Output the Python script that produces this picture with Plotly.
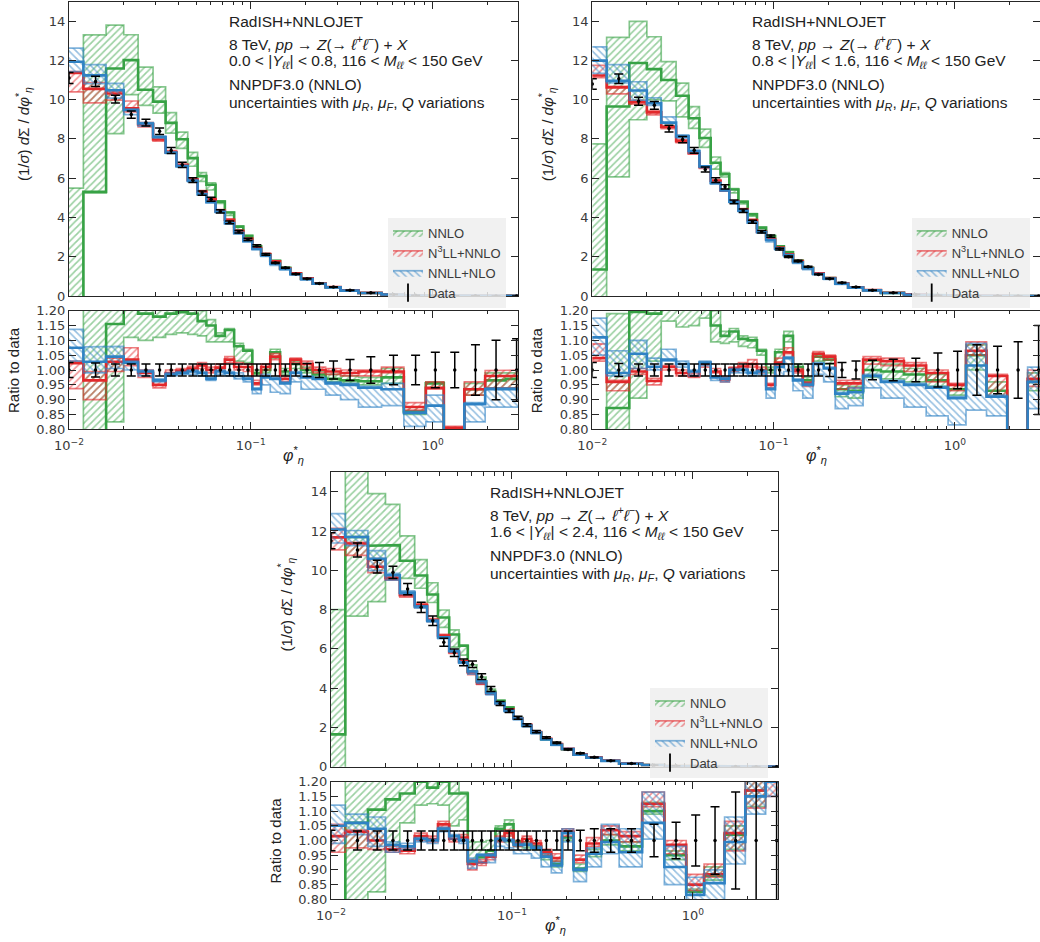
import plotly.graph_objects as go

# bin edges of phi*_eta
edges = [0.008, 0.012, 0.016, 0.020, 0.024, 0.029, 0.034, 0.039, 0.045, 0.051,
         0.057, 0.064, 0.072, 0.081, 0.091, 0.102, 0.114, 0.128, 0.145, 0.165,
         0.189, 0.219, 0.258, 0.312, 0.391, 0.524, 0.695, 0.918, 1.153, 1.496,
         1.947, 2.522, 3.277]

# ---- panel 1 : 0.0 < |Y| < 0.8 ----
data_1 = [11.1, 10.93, 10.03, 9.24, 8.83, 8.39, 7.41, 6.68, 5.90, 5.24, 4.93, 4.31, 3.75, 3.27, 2.88, 2.56,
          2.12, 1.69, 1.44, 1.12, 0.88, 0.64, 0.46, 0.29, 0.16, 0.08, 0.042, 0.022, 0.012, 0.0065, 0.0035, 0.0018]
err_1 = [0.025, 0.024, 0.02, 0.02, 0.02, 0.02, 0.02, 0.02, 0.02, 0.02, 0.02, 0.02, 0.02, 0.02, 0.02, 0.02,
         0.02, 0.02, 0.02, 0.02, 0.022, 0.025, 0.03, 0.035, 0.045, 0.05, 0.05, 0.06, 0.06, 0.085, 0.10, 0.105]
nnlo_1 = [-0.2, 0.485, 1.155, 1.30, 1.19, 1.18, 1.19, 1.195, 1.19, 1.165, 1.15, 1.115, 1.135, 1.08, 1.065, 0.99,
          1.0, 1.06, 0.995, 1.02, 1.0, 0.985, 0.97, 0.965, 0.962, 0.975, 0.86, 0.955, 0.79, 0.935, 0.965, 0.97]
nnlo_lo_1 = [-0.5, 0.48, 0.825, 1.11, 1.10, 1.11, 1.12, 1.125, 1.12, 1.115, 1.095, 1.095, 1.095, 1.03, 1.025, 0.985,
             0.99, 1.04, 0.985, 1.005, 0.99, 0.975, 0.96, 0.955, 0.95, 0.955, 0.85, 0.94, 0.78, 0.915, 0.94, 0.94]
nnlo_hi_1 = [0.495, 1.217, 1.376, 1.44, 1.32, 1.27, 1.26, 1.25, 1.24, 1.20, 1.17, 1.125, 1.14, 1.09, 1.07, 1.0,
             1.01, 1.07, 1.005, 1.03, 1.01, 0.995, 0.985, 0.98, 0.975, 1.005, 0.875, 0.96, 0.805, 0.955, 0.99, 0.99]
n3ll_1 = [1.023, 0.965, 1.028, 1.035, 0.99, 0.95, 0.99, 0.998, 1.005, 1.015, 1.0, 1.008, 1.035, 1.01, 1.01, 0.955,
          1.01, 1.045, 0.97, 1.035, 1.02, 1.0, 0.995, 0.99, 0.995, 0.995, 0.875, 0.94, 0.805, 0.935, 0.98, 0.98]
n3ll_lo_1 = [0.937, 0.90, 0.995, 1.015, 0.975, 0.94, 0.985, 0.99, 0.995, 1.005, 0.99, 0.998, 1.025, 1.0, 0.995, 0.95,
             1.0, 1.035, 0.96, 1.025, 1.005, 0.99, 0.985, 0.98, 0.98, 0.99, 0.865, 0.935, 0.79, 0.915, 0.94, 0.94]
n3ll_hi_1 = [1.03, 0.995, 1.04, 1.075, 1.0, 0.965, 1.0, 1.005, 1.012, 1.025, 1.01, 1.02, 1.045, 1.025, 1.02, 0.965,
             1.02, 1.055, 0.98, 1.04, 1.03, 1.01, 1.005, 1.0, 1.0, 1.01, 0.89, 0.96, 0.81, 0.96, 0.998, 1.0]
nnll_1 = [1.075, 1.028, 1.045, 1.025, 0.995, 0.965, 0.985, 0.99, 0.995, 0.99, 0.97, 0.995, 0.99, 0.98, 0.97, 0.935,
          0.975, 0.97, 0.955, 0.99, 0.975, 0.97, 0.955, 0.95, 0.94, 0.935, 0.855, 0.88, 0.75, 0.885, 0.935, 0.935]
nnll_lo_1 = [1.03, 0.99, 1.005, 1.0, 0.98, 0.96, 0.98, 0.985, 0.985, 0.98, 0.965, 0.985, 0.98, 0.97, 0.96, 0.92,
             0.95, 0.925, 0.92, 0.96, 0.935, 0.935, 0.915, 0.90, 0.875, 0.88, 0.81, 0.825, 0.70, 0.825, 0.875, 0.875]
nnll_hi_1 = [1.137, 1.078, 1.08, 1.03, 1.0, 0.97, 0.99, 0.995, 1.0, 0.995, 0.975, 1.0, 0.995, 0.99, 0.975, 0.94,
             0.985, 0.975, 0.96, 0.995, 0.98, 0.975, 0.96, 0.955, 0.945, 0.955, 0.86, 0.915, 0.78, 0.89, 0.94, 0.94]

# ---- panel 2 : 0.8 < |Y| < 1.6 ----
data_2 = [10.8, 11.07, 9.92, 9.71, 8.53, 7.97, 7.42, 6.44, 5.90, 5.56, 4.80, 4.34, 3.78, 3.27, 3.05, 2.39,
          2.0, 1.78, 1.49, 1.10, 0.88, 0.68, 0.46, 0.29, 0.16, 0.08, 0.042, 0.022, 0.012, 0.0065, 0.0035, 0.0018]
err_2 = [0.025, 0.022, 0.02, 0.02, 0.02, 0.02, 0.02, 0.02, 0.02, 0.02, 0.02, 0.02, 0.02, 0.02, 0.02, 0.02,
         0.02, 0.02, 0.02, 0.02, 0.022, 0.025, 0.03, 0.033, 0.036, 0.04, 0.057, 0.063, 0.085, 0.08, 0.095, 0.15]
nnlo_2 = [0.125, 0.872, 1.196, 1.19, 1.29, 1.28, 1.22, 1.25, 1.15, 1.115, 1.13, 1.105, 1.10, 1.065, 1.0, 1.06,
          1.115, 1.01, 0.965, 1.045, 1.035, 0.935, 0.93, 1.0, 0.995, 0.985, 0.965, 0.935, 1.05, 0.93, 0.75, 0.96]
nnlo_lo_2 = [-0.3, 0.548, 0.905, 1.03, 1.165, 1.145, 1.15, 1.175, 1.095, 1.09, 1.095, 1.08, 1.075, 1.05, 0.99, 1.025,
             1.095, 1.0, 0.955, 1.03, 1.02, 0.91, 0.905, 0.975, 0.97, 0.96, 0.945, 0.915, 1.0, 0.91, 0.72, 0.93]
nnlo_hi_2 = [0.717, 1.19, 1.41, 1.36, 1.40, 1.36, 1.30, 1.32, 1.20, 1.13, 1.14, 1.115, 1.11, 1.07, 1.01, 1.07,
             1.13, 1.02, 0.975, 1.055, 1.045, 0.95, 0.945, 1.03, 1.02, 1.005, 0.985, 0.95, 1.085, 0.96, 0.78, 0.99]
n3ll_2 = [1.04, 0.96, 0.995, 0.963, 1.01, 0.99, 0.98, 1.02, 0.995, 0.968, 1.005, 1.012, 1.02, 1.0, 0.95, 1.025,
          1.06, 0.998, 0.955, 1.055, 1.045, 0.955, 0.955, 1.035, 1.03, 1.015, 0.99, 0.95, 1.065, 0.98, 0.76, 0.97]
n3ll_lo_2 = [1.03, 0.93, 0.985, 0.95, 1.0, 0.98, 0.975, 1.01, 0.99, 0.96, 0.995, 1.0, 1.01, 0.99, 0.94, 1.015,
             1.055, 0.99, 0.945, 1.045, 1.035, 0.935, 0.94, 1.02, 1.015, 0.995, 0.96, 0.93, 1.05, 0.91, 0.74, 0.945]
n3ll_hi_2 = [1.088, 0.965, 1.005, 0.972, 1.015, 1.0, 0.99, 1.025, 1.005, 0.975, 1.01, 1.025, 1.035, 1.01, 0.955, 1.04,
             1.075, 1.005, 0.96, 1.062, 1.05, 0.965, 0.965, 1.045, 1.04, 1.025, 1.0, 0.955, 1.095, 0.985, 0.78, 1.0]
nnll_2 = [1.11, 0.99, 1.055, 1.011, 1.035, 1.02, 0.995, 1.025, 0.975, 0.97, 1.0, 1.0, 0.99, 0.995, 0.935, 1.01,
          1.04, 0.965, 0.95, 1.02, 1.005, 0.92, 0.925, 0.98, 0.96, 0.95, 0.94, 0.905, 1.015, 0.91, 0.70, 0.96]
nnll_lo_2 = [1.05, 0.98, 1.005, 1.0, 1.03, 1.01, 0.98, 1.015, 0.965, 0.96, 0.99, 0.99, 0.98, 0.985, 0.905, 0.98,
             0.995, 0.93, 0.905, 0.985, 0.96, 0.87, 0.88, 0.94, 0.905, 0.875, 0.845, 0.815, 0.865, 0.845, 0.65, 0.87]
nnll_hi_2 = [1.175, 1.065, 1.10, 1.04, 1.07, 1.03, 1.0, 1.03, 0.98, 0.975, 1.005, 1.005, 0.995, 1.0, 0.94, 1.02,
             1.045, 0.97, 0.955, 1.025, 1.01, 0.925, 0.94, 0.985, 0.965, 0.955, 0.945, 0.91, 1.09, 0.915, 0.75, 1.01]

# ---- panel 3 : 1.6 < |Y| < 2.4 ----
data_3 = [11.5, 11.03, 10.18, 9.89, 9.04, 8.11, 7.43, 6.33, 5.80, 5.31, 5.21, 4.58, 3.95, 3.22, 2.85, 2.49,
          2.12, 1.78, 1.48, 1.22, 0.88, 0.68, 0.48, 0.30, 0.16, 0.08, 0.042, 0.022, 0.012, 0.0065, 0.0035, 0.0018]
err_3 = [0.035, 0.032, 0.032, 0.032, 0.032, 0.032, 0.032, 0.032, 0.032, 0.032, 0.032, 0.032, 0.032, 0.032, 0.032, 0.032,
         0.032, 0.032, 0.032, 0.032, 0.032, 0.035, 0.04, 0.04, 0.04, 0.055, 0.062, 0.087, 0.115, 0.165, 0.35, 0.4]
nnlo_3 = [0.143, 1.06, 1.105, 1.14, 1.16, 1.2, 1.18, 1.2, 1.16, 1.16, 0.93, 0.945, 0.965, 1.04, 1.055, 0.995,
          0.985, 0.98, 0.945, 0.92, 1.01, 0.905, 0.955, 1.0, 0.98, 1.10, 0.95, 0.826, 0.88, 1.02, 1.17, 1.25]
nnlo_lo_3 = [-0.2, 0.695, 0.825, 0.97, 1.06, 1.12, 1.125, 1.12, 1.05, 1.07, 0.925, 0.94, 0.955, 1.0, 0.995, 0.98,
             0.975, 0.97, 0.935, 0.91, 1.0, 0.895, 0.945, 0.985, 0.965, 1.09, 0.935, 0.815, 0.865, 0.97, 1.115, 1.2]
nnlo_hi_3 = [0.695, 1.42, 1.365, 1.35, 1.30, 1.30, 1.26, 1.26, 1.20, 1.165, 0.995, 0.995, 1.0, 1.05, 1.07, 1.0,
             0.995, 0.99, 0.955, 0.93, 1.025, 0.92, 0.97, 1.02, 0.995, 1.13, 0.965, 0.835, 0.91, 1.05, 1.21, 1.3]
n3ll_3 = [1.015, 1.03, 1.0, 0.97, 0.965, 1.015, 1.005, 1.055, 1.005, 1.01, 0.92, 0.925, 0.945, 1.005, 1.025, 0.99,
          1.005, 0.99, 0.96, 0.94, 1.03, 0.935, 0.99, 1.035, 1.015, 1.125, 0.985, 0.85, 0.885, 1.025, 1.17, 1.22]
n3ll_lo_3 = [0.96, 0.975, 0.97, 0.96, 0.955, 1.0, 0.995, 1.045, 0.995, 1.0, 0.9, 0.915, 0.935, 0.995, 1.015, 0.98,
             0.995, 0.98, 0.95, 0.93, 1.015, 0.925, 0.98, 1.02, 0.995, 1.115, 0.955, 0.83, 0.875, 0.965, 1.11, 1.15]
n3ll_hi_3 = [1.055, 1.035, 1.04, 0.98, 0.975, 1.025, 1.015, 1.065, 1.015, 1.02, 0.935, 0.935, 0.955, 1.015, 1.035, 1.0,
             1.015, 1.0, 0.97, 0.955, 1.04, 0.95, 1.01, 1.05, 1.03, 1.165, 1.0, 0.885, 0.92, 1.065, 1.21, 1.3]
nnll_3 = [1.05, 1.06, 1.04, 0.985, 0.98, 1.005, 1.0, 1.04, 1.015, 1.0, 0.93, 0.95, 0.95, 1.005, 1.0, 0.985,
          0.985, 0.975, 0.945, 0.915, 1.025, 0.9, 0.955, 0.995, 0.96, 1.06, 0.91, 0.815, 0.855, 0.995, 1.15, 1.2]
nnll_lo_3 = [0.99, 1.02, 0.98, 0.96, 0.97, 0.995, 0.99, 1.03, 1.005, 0.99, 0.905, 0.925, 0.925, 0.98, 0.975, 0.955,
             0.955, 0.94, 0.91, 0.89, 0.995, 0.86, 0.91, 0.955, 0.91, 1.005, 0.85, 0.795, 0.79, 0.92, 1.09, 1.15]
nnll_hi_3 = [1.12, 1.09, 1.08, 0.995, 0.99, 1.01, 1.005, 1.045, 1.02, 1.005, 0.94, 0.955, 0.955, 1.01, 1.005, 0.99,
             0.99, 0.98, 0.955, 0.925, 1.04, 0.905, 0.975, 1.055, 1.04, 1.165, 0.98, 0.875, 0.9, 1.08, 1.21, 1.3]

rapidity_labels = ["0.0 < |<i>Y</i><sub><i>ℓℓ</i></sub>| < 0.8, 116 < <i>M</i><sub><i>ℓℓ</i></sub> < 150 GeV",
                   "0.8 < |<i>Y</i><sub><i>ℓℓ</i></sub>| < 1.6, 116 < <i>M</i><sub><i>ℓℓ</i></sub> < 150 GeV",
                   "1.6 < |<i>Y</i><sub><i>ℓℓ</i></sub>| < 2.4, 116 < <i>M</i><sub><i>ℓℓ</i></sub> < 150 GeV"]

GREEN = "#37a245"
RED = "#e2282b"
BLUE = "#2f82c4"
EDGE = {GREEN: "rgba(55,162,69,0.6)", RED: "rgba(226,40,43,0.6)", BLUE: "rgba(47,130,196,0.6)"}
TICKFONT = "DejaVu Sans"
TEXTFONT = "Liberation Sans"
W, H = 1040, 942


def step(vals):
    xs, ys = [], []
    for i, v in enumerate(vals):
        xs += [edges[i], edges[i + 1]]
        ys += [v, v]
    return xs, ys


def band(lo, hi):
    xu, yu = step(hi)
    xl, yl = step(lo)
    return xu + xl[::-1], yu + yl[::-1]


def px_x(p):
    return p / W


def px_y(p):
    return 1 - p / H


fig = go.Figure()

panels = [
    dict(data=data_1, err=err_1,
         th=[(nnlo_1, nnlo_lo_1, nnlo_hi_1), (n3ll_1, n3ll_lo_1, n3ll_hi_1), (nnll_1, nnll_lo_1, nnll_hi_1)],
         x0=69, x1=518, top=1.5, mid=296, r0=310.7, r1=429.3, leg=(388, 218), tx=226.7),
    dict(data=data_2, err=err_2,
         th=[(nnlo_2, nnlo_lo_2, nnlo_hi_2), (n3ll_2, n3ll_lo_2, n3ll_hi_2), (nnll_2, nnll_lo_2, nnll_hi_2)],
         x0=592.3, x1=1040, top=1.5, mid=296, r0=310.7, r1=429.3, leg=(911.7, 218), tx=750),
    dict(data=data_3, err=err_3,
         th=[(nnlo_3, nnlo_lo_3, nnlo_hi_3), (n3ll_3, n3ll_lo_3, n3ll_hi_3), (nnll_3, nnll_lo_3, nnll_hi_3)],
         x0=331, x1=778, top=472, mid=766.7, r0=781.7, r1=899.3, leg=(650, 688), tx=488.3),
]
names = ["NNLO", "N<sup>3</sup>LL+NNLO", "NNLL+NLO"]
colors = [GREEN, RED, BLUE]
hatches = ["/", "/", "\\"]
centers = [(edges[i] + edges[i + 1]) / 2 for i in range(len(edges) - 1)]

axis_common = dict(showline=True, linecolor="#262626", linewidth=1.2, mirror="allticks",
                   ticks="inside", ticklen=7, tickwidth=1, tickcolor="#262626",
                   showgrid=False, zeroline=False, automargin=False,
                   tickfont=dict(family=TICKFONT, size=13, color="#3a3a3a"))
minor_vals = [k * 10 ** e for e in (-2, -1, 0) for k in range(2, 10)]

for n, p in enumerate(panels):
    legname = "legend" if n == 0 else "legend%d" % (n + 1)
    xa_m, ya_m = ("x", "y") if n == 0 else ("x%d" % (2 * n + 1), "y%d" % (2 * n + 1))
    xa_r, ya_r = "x%d" % (2 * n + 2), "y%d" % (2 * n + 2)
    data = p["data"]
    for (c, lo, hi), col, name, hatch in zip(p["th"], colors, names, hatches):
        main_c = [d * r for d, r in zip(data, c)]
        main_lo = [d * r for d, r in zip(data, lo)]
        main_hi = [d * r for d, r in zip(data, hi)]
        for xa, ya, vc, vlo, vhi, show in [(xa_m, ya_m, main_c, main_lo, main_hi, True),
                                           (xa_r, ya_r, c, lo, hi, False)]:
            bx, by = band(vlo, vhi)
            fig.add_trace(go.Scatter(
                x=bx, y=by, xaxis=xa, yaxis=ya, mode="lines", fill="toself",
                fillcolor="rgba(0,0,0,0)",
                fillpattern=dict(shape=hatch, fgcolor=col, bgcolor="rgba(255,255,255,0)",
                                 size=5, solidity=0.34),
                line=dict(color=EDGE[col], width=1.7),
                name=name, showlegend=show, legend=legname, hoverinfo="skip"))
            sx, sy = step(vc)
            fig.add_trace(go.Scatter(
                x=sx, y=sy, xaxis=xa, yaxis=ya, mode="lines",
                line=dict(color=col, width=2.6), showlegend=False, hoverinfo="skip"))
    # data points
    fig.add_trace(go.Scatter(
        x=centers, y=data, xaxis=xa_m, yaxis=ya_m, mode="markers",
        marker=dict(color="black", size=3.5),
        error_y=dict(type="data", array=[d * e for d, e in zip(data, p["err"])],
                     color="black", thickness=1.5, width=4.5),
        showlegend=False))
    fig.add_trace(go.Scatter(
        x=centers, y=[1.0] * len(centers), xaxis=xa_r, yaxis=ya_r, mode="markers",
        marker=dict(color="black", size=3.5),
        error_y=dict(type="data", array=p["err"], color="black", thickness=1.5, width=4.5),
        showlegend=False))
    fig.add_trace(go.Scatter(
        x=[None], y=[None], xaxis=xa_m, yaxis=ya_m, mode="markers", name="Data",
        marker=dict(symbol="line-ns-open", size=13, color="black", line=dict(width=1.8, color="black")),
        legend=legname))

    xdom = [px_x(p["x0"]), min(px_x(p["x1"]), 1.0)]
    key_m = "xaxis" if n == 0 else "xaxis%d" % (2 * n + 1)
    keyy_m = "yaxis" if n == 0 else "yaxis%d" % (2 * n + 1)
    key_r = "xaxis%d" % (2 * n + 2)
    keyy_r = "yaxis%d" % (2 * n + 2)
    xcommon = dict(axis_common, type="log", range=[-2, 0.47], domain=xdom,
                   tickmode="array", tickvals=[0.01, 0.1, 1],
                   minor=dict(tickmode="array", tickvals=minor_vals, ticks="inside",
                              ticklen=3.5, tickcolor="#262626", showgrid=False))
    fig.update_layout(**{
        key_m: dict(xcommon, anchor=ya_m, showticklabels=False),
        keyy_m: dict(axis_common, anchor=xa_m, range=[0, 15], dtick=2, tick0=0,
                     domain=[px_y(p["mid"]), px_y(p["top"])]),
        key_r: dict(xcommon, anchor=ya_r, ticklabelstandoff=4,
                    ticktext=["10<sup>−2</sup>", "10<sup>−1</sup>", "10<sup>0</sup>"]),
        keyy_r: dict(axis_common, anchor=xa_r, range=[0.8, 1.2], tickmode="array",
                     tickvals=[0.8, 0.85, 0.9, 0.95, 1.0, 1.05, 1.1, 1.15, 1.2],
                     tickformat=".2f", domain=[px_y(p["r1"]), px_y(p["r0"])]),
        legname: dict(x=px_x(p["leg"][0]), y=px_y(p["leg"][1]), xanchor="left", yanchor="top",
                      bgcolor="rgba(238,238,238,0.85)", borderwidth=0,
                      font=dict(family=TEXTFONT, size=13, color="#3a3a3a"),
                      itemwidth=30, tracegroupgap=0),
    })

    # texts
    ty0 = p["top"] - 1.5
    lines = ["RadISH+NNLOJET",
             "8 TeV, <i>pp</i> → <i>Z</i>(→ <i>ℓ</i><sup>+</sup><i>ℓ</i><sup>−</sup>) + <i>X</i>",
             rapidity_labels[n],
             "NNPDF3.0 (NNLO)",
             "uncertainties with <i>μ<sub>R</sub></i>, <i>μ<sub>F</sub></i>, <i>Q</i> variations"]
    offs = [22, 43, 62, 84.5, 104]
    for line, off in zip(lines, offs):
        fig.add_annotation(x=px_x(p["tx"]), y=px_y(ty0 + off), xref="paper", yref="paper",
                           text=line, showarrow=False, xanchor="left", yanchor="middle",
                           font=dict(family=TEXTFONT, size=15.5, color="#222222"))
    # axis titles
    fig.add_annotation(x=px_x(p["x0"] - 45), y=px_y(ty0 + 134), xref="paper", yref="paper",
                       text="(1/<i>σ</i>) <i>d</i>Σ / <i>dφ</i><sup>*</sup><sub><i>η</i></sub>",
                       textangle=-90, showarrow=False, xanchor="center", yanchor="middle",
                       font=dict(family=TEXTFONT, size=15, color="#222222"))
    fig.add_annotation(x=px_x(p["x0"] - 56), y=px_y((p["r0"] + p["r1"]) / 2), xref="paper", yref="paper",
                       text="Ratio to data", textangle=-90, showarrow=False,
                       xanchor="center", yanchor="middle",
                       font=dict(family=TEXTFONT, size=15, color="#222222"))
    fig.add_annotation(x=px_x(p["x0"] + 224.5), y=px_y(p["r1"] + 26), xref="paper", yref="paper",
                       text="<i>φ</i><sup>*</sup><sub><i>η</i></sub>", showarrow=False,
                       xanchor="center", yanchor="middle",
                       font=dict(family=TEXTFONT, size=16, color="#222222"))

fig.update_layout(width=W, height=H, margin=dict(l=0, r=0, t=0, b=0),
                  plot_bgcolor="white", paper_bgcolor="white",
                  font=dict(family=TEXTFONT, size=13, color="#333333"))

# page body margin would shift the figure by 8 px
fig.write_html("out.html", config={"displayModeBar": False},
               post_script="document.body.style.margin='0px';")
